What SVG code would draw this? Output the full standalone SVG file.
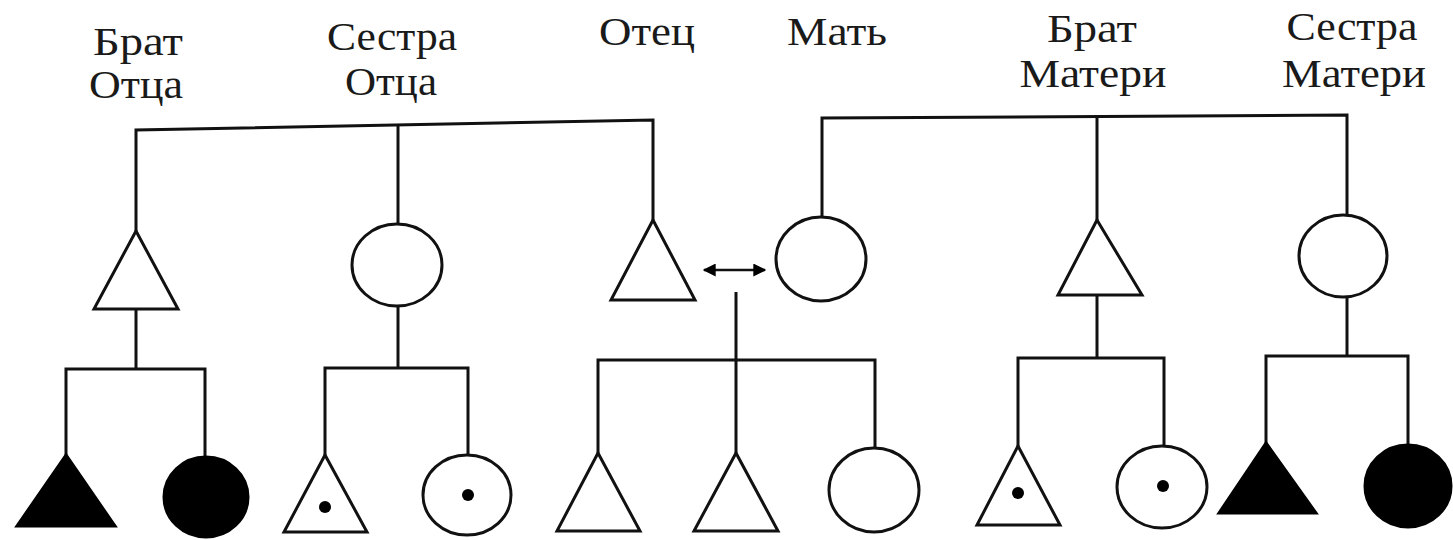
<svg xmlns="http://www.w3.org/2000/svg" width="1453" height="540" viewBox="0 0 1453 540">
<style>
.lbl{font-family:"Liberation Serif","DejaVu Serif",serif;font-size:40px;fill:#1a1a1a;text-anchor:middle}
.shape{fill:#fff;stroke:#111;stroke-width:3}
.filled{fill:#000;stroke:#000;stroke-width:3}
.dot{fill:#000}
.con{fill:none;stroke:#111;stroke-width:3}
</style>
<defs>
<marker id="ah" viewBox="0 0 10 10" refX="9" refY="5" markerWidth="14" markerHeight="13" orient="auto-start-reverse" markerUnits="userSpaceOnUse">
<path d="M0,0 L10,5 L0,10 Z" fill="#000"/>
</marker>
</defs>
<rect width="1453" height="540" fill="#fff"/>
<g id="labels">
<text class="lbl" x="138" y="55" textLength="90" lengthAdjust="spacingAndGlyphs">Брат</text>
<text class="lbl" x="136" y="98" textLength="94" lengthAdjust="spacingAndGlyphs">Отца</text>
<text class="lbl" x="392" y="50" textLength="130" lengthAdjust="spacingAndGlyphs">Сестра</text>
<text class="lbl" x="391" y="95" textLength="92" lengthAdjust="spacingAndGlyphs">Отца</text>
<text class="lbl" x="647" y="45" textLength="96" lengthAdjust="spacingAndGlyphs">Отец</text>
<text class="lbl" x="837" y="45" textLength="100" lengthAdjust="spacingAndGlyphs">Мать</text>
<text class="lbl" x="1092" y="42" textLength="90" lengthAdjust="spacingAndGlyphs">Брат</text>
<text class="lbl" x="1093" y="87" textLength="147" lengthAdjust="spacingAndGlyphs">Матери</text>
<text class="lbl" x="1352" y="40" textLength="131" lengthAdjust="spacingAndGlyphs">Сестра</text>
<text class="lbl" x="1354" y="87" textLength="144" lengthAdjust="spacingAndGlyphs">Матери</text>
</g>
<g id="connectors">
<polyline class="con" points="136,231 136,130 653,120 653,220"/>
<line class="con" x1="398" y1="125" x2="398" y2="224"/>
<polyline class="con" points="822,217 822,118 1347,115 1347,215"/>
<line class="con" x1="1097" y1="116" x2="1097" y2="220"/>
<line class="con" x1="136" y1="309" x2="136" y2="369"/>
<polyline class="con" points="66,455 66,369 205,369 205,457"/>
<line class="con" x1="398" y1="307" x2="398" y2="368"/>
<polyline class="con" points="325,455 325,368 468,368 468,455"/>
<line class="con" x1="736" y1="292" x2="736" y2="453"/>
<polyline class="con" points="598,453 598,360 875,360 875,448"/>
<line class="con" x1="1097" y1="295" x2="1097" y2="358"/>
<polyline class="con" points="1018,446 1018,358 1164,358 1164,446"/>
<line class="con" x1="1347" y1="297" x2="1347" y2="356"/>
<polyline class="con" points="1266,443 1266,356 1408,356 1408,444"/>
<line class="con" style="stroke-width:2.5" x1="704" y1="270" x2="765" y2="270" marker-start="url(#ah)" marker-end="url(#ah)"/>
</g>
<g id="brat-otca"><polygon class="shape" points="136,231 94,309 178,309"/></g>
<g id="sestra-otca"><ellipse class="shape" cx="397" cy="265" rx="45" ry="41"/></g>
<g id="otec"><polygon class="shape" points="653,220 611,300 695,300"/></g>
<g id="mat"><ellipse class="shape" cx="821" cy="259" rx="45" ry="42"/></g>
<g id="brat-materi"><polygon class="shape" points="1097,220 1058,295 1142,295"/></g>
<g id="sestra-materi"><ellipse class="shape" cx="1343" cy="256" rx="44" ry="41"/></g>
<g id="c1"><polygon class="filled" points="66,455 17,526 115,526"/></g>
<g id="c2"><ellipse class="filled" cx="206" cy="497" rx="42" ry="40"/></g>
<g id="c3"><polygon class="shape" points="325,455 284,532 367,532"/><circle class="dot" cx="325" cy="507" r="6"/></g>
<g id="c4"><ellipse class="shape" cx="467" cy="495" rx="44" ry="40"/><circle class="dot" cx="468" cy="495" r="6"/></g>
<g id="c5"><polygon class="shape" points="598,453 557,531 640,531"/></g>
<g id="c6"><polygon class="shape" points="736,453 694,531 778,531"/></g>
<g id="c7"><ellipse class="shape" cx="874" cy="490" rx="45" ry="42"/></g>
<g id="c8"><polygon class="shape" points="1018,446 977,525 1060,525"/><circle class="dot" cx="1018" cy="493" r="6"/></g>
<g id="c9"><ellipse class="shape" cx="1162" cy="487" rx="45" ry="41"/><circle class="dot" cx="1163" cy="486" r="6"/></g>
<g id="c10"><polygon class="filled" points="1266,443 1219,513 1316,513"/></g>
<g id="c11"><ellipse class="filled" cx="1408" cy="486" rx="43" ry="41"/></g>
</svg>
